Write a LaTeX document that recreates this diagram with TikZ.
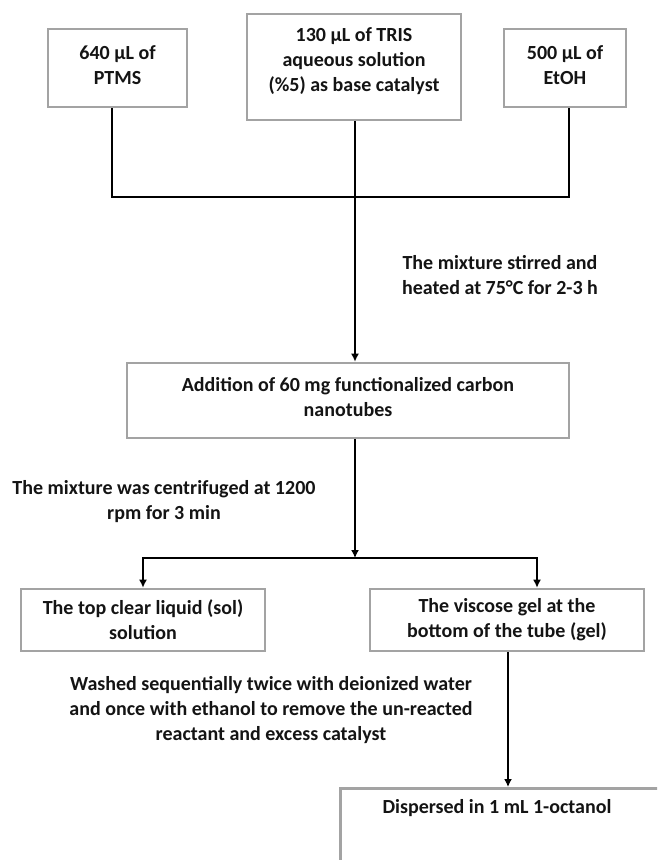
\documentclass[tikz,border=0pt]{standalone}
\usepackage{fontspec}
\setmainfont{Carlito}
\usetikzlibrary{arrows.meta}
\definecolor{boxgray}{HTML}{A3A3A3}
\definecolor{txt}{HTML}{141414}
\begin{document}
\begin{tikzpicture}[x=1pt,y=-1pt,
  txtstyle/.style={text=txt, font=\bfseries\fontsize{20}{25}\selectfont, align=center, inner sep=0pt},
  box/.style={txtstyle, draw=boxgray, line width=2.6pt, fill=white},
  lbl/.style={txtstyle},
  conn/.style={line width=1.5pt, black},
  arr/.style={conn, -{Latex[length=8pt,width=8pt]}}]
\useasboundingbox (0,0) rectangle (657,860);
\clip (0,0) rectangle (657,860);
\fill[white] (0,0) rectangle (657,860);

% top boxes
\node[box, minimum width=139pt, minimum height=78pt] (b1) at (117.5,68) {};
\node[lbl] (t1) at (117.5,65) {640 µL of\\PTMS};
\node[box, minimum width=214pt, minimum height=106pt] (b2) at (354,67) {};
\node[lbl] (t2) at (354,61) {130 µL of TRIS\\aqueous solution\\(\%5) as base catalyst};
\node[box, minimum width=122pt, minimum height=78pt] (b3) at (565,68) {};
\node[lbl] (t3) at (565,65) {500 µL of\\EtOH};

\coordinate (j1) at (355,197);
\draw[conn] ([xshift=-5.5pt]b1.south) |- (j1);
\draw[conn] ([xshift=4pt]b3.south) |- (j1);

% second level
\node[box, minimum width=442pt, minimum height=75pt] (b4) at (348,400.5) {};
\node[lbl] (t4) at (348,397) {Addition of 60 mg functionalized carbon\\nanotubes};
\draw[arr] ([xshift=1pt]b2.south) -- ([xshift=1pt]b2.south |- b4.north);
\node[lbl] (l1) at (500,275) {The mixture stirred and\\heated at 75°C for 2-3 h};

% split
\coordinate (j2) at (355,558);
\draw[arr] (b4.south -| j2) -- (j2);
\node[lbl] (l2) at (164,502) {The mixture was centrifuged at 1200\\rpm for 3 min};

\node[box, minimum width=244pt, minimum height=62pt] (b5) at (143,620) {The top clear liquid (sol)\\solution};
\node[box, minimum width=274pt, minimum height=62pt] (b6) at (507,620) {The viscose gel at the\\bottom of the tube (gel)};
\draw[arr] (j2) -| (b5.north);
\draw[arr] (j2) -| ([xshift=30pt]b6.north);

\node[lbl] (l3) at (271,710) {Washed sequentially twice with deionized water\\and once with ethanol to remove the un-reacted\\reactant and excess catalyst};

% last box (cut off by the picture edge)
\node[box, anchor=north west, minimum width=340pt, minimum height=120pt] (b7) at (339,787) {};
\node[lbl] (t7) at (497,808) {Dispersed in 1 mL 1-octanol};
\draw[arr] ([xshift=1pt]b6.south) -- ([xshift=1pt]b6.south |- b7.north);
\end{tikzpicture}
\end{document}
